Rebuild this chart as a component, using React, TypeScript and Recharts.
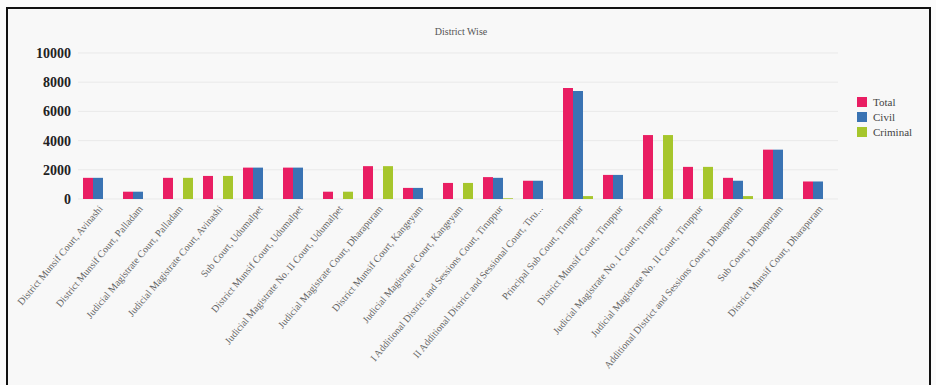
import React from "react";
import {
  BarChart,
  Bar,
  XAxis,
  YAxis,
  CartesianGrid,
} from "recharts";

const courts = [
  "District Munsif Court, Avinashi",
  "District Munsif Court, Palladam",
  "Judicial Magistrate Court, Palladam",
  "Judicial Magistrate Court, Avinashi",
  "Sub Court, Udumalpet",
  "District Munsif Court, Udumalpet",
  "Judicial Magistrate No. II Court, Udumalpet",
  "Judicial Magistrate Court, Dharapuram",
  "District Munsif Court, Kangeyam",
  "Judicial Magistrate Court, Kangeyam",
  "I Additional District and Sessions Court, Tiruppur",
  "II Additional District and Sessional Court, Tiru...",
  "Principal Sub Court, Tiruppur",
  "District Munsif Court, Tiruppur",
  "Judicial Magistrate No. I Court, Tiruppur",
  "Judicial Magistrate No. II Court, Tiruppur",
  "Additional District and Sessions Court, Dharapuram",
  "Sub Court, Dharapuram",
  "District Munsif Court, Dharapuram",
];

const totalCases = [1450, 500, 1450, 1580, 2150, 2150, 500, 2250, 760, 1100, 1500, 1250, 7600, 1650, 4380, 2200, 1450, 3380, 1200];
const civilCases = [1450, 500, 0, 0, 2150, 2150, 0, 0, 760, 0, 1450, 1250, 7400, 1650, 0, 0, 1250, 3380, 1200];
const criminalCases = [0, 0, 1450, 1580, 0, 0, 500, 2250, 0, 1100, 50, 0, 200, 0, 4380, 2200, 200, 0, 0];

const yTicks = [0, 2000, 4000, 6000, 8000, 10000];

const data = courts.map((court, i) => ({
  court,
  total: totalCases[i],
  civil: civilCases[i],
  criminal: criminalCases[i],
}));

const series = [
  { key: "total", name: "Total", color: "#e91e63" },
  { key: "civil", name: "Civil", color: "#3a73b3" },
  { key: "criminal", name: "Criminal", color: "#a6c62c" },
];

const CourtTick = (props: any) => {
  const { x, y, payload } = props;
  return (
    <g transform={`translate(${x + 3},${y})`}>
      <text
        transform="rotate(-50)"
        textAnchor="end"
        dy={3}
        fontSize={10}
        fontFamily="'Liberation Serif', serif"
        fill="#666"
      >
        {payload.value}
      </text>
    </g>
  );
};

export default function App() {
  return (
    <div
      style={{
        position: "absolute",
        left: 0,
        top: 0,
        width: 936,
        height: 385,
        background: "#fbfbfb",
        overflow: "hidden",
      }}
    >
      {/* frame */}
      <div
        style={{
          position: "absolute",
          left: 6,
          top: 7,
          width: 921,
          height: 390,
          border: "2px solid #111",
          background: "#f8f8f8",
        }}
      />
      <div
        style={{
          position: "absolute",
          left: 0,
          top: 26,
          width: 922,
          textAlign: "center",
          fontFamily: "'Liberation Serif', serif",
          fontSize: 10,
          color: "#555",
        }}
      >
        District Wise
      </div>
      <div style={{ position: "absolute", left: 0, top: 0 }}>
        <BarChart
          width={936}
          height={385}
          data={data}
          margin={{ top: 53, right: 98, left: 0, bottom: 0 }}
          barCategoryGap="12.5%"
          barGap={0}
        >
          <CartesianGrid vertical={false} stroke="#e9e9e9" />
          <XAxis
            dataKey="court"
            interval={0}
            height={186}
            axisLine={false}
            tickLine={false}
            tick={<CourtTick />}
          />
          <YAxis
            width={78}
            domain={[0, 10000]}
            ticks={yTicks}
            axisLine={false}
            tickLine={false}
            tickMargin={1}
            tick={{
              fontSize: 14,
              fontWeight: "bold",
              fontFamily: "'Liberation Serif', serif",
              fill: "#222",
            }}
          />
          {series.map((s) => (
            <Bar
              key={s.key}
              dataKey={s.key}
              name={s.name}
              fill={s.color}
              isAnimationActive={false}
            />
          ))}
        </BarChart>
      </div>
      {/* legend */}
      <div
        style={{
          position: "absolute",
          left: 857,
          top: 94,
          fontFamily: "'Liberation Serif', serif",
          fontSize: 11,
          color: "#444",
        }}
      >
        {series.map((s) => (
          <div key={s.key} style={{ display: "flex", alignItems: "center", height: 15 }}>
            <span style={{ width: 10, height: 10, background: s.color, marginRight: 6 }} />
            {s.name}
          </div>
        ))}
      </div>
    </div>
  );
}
